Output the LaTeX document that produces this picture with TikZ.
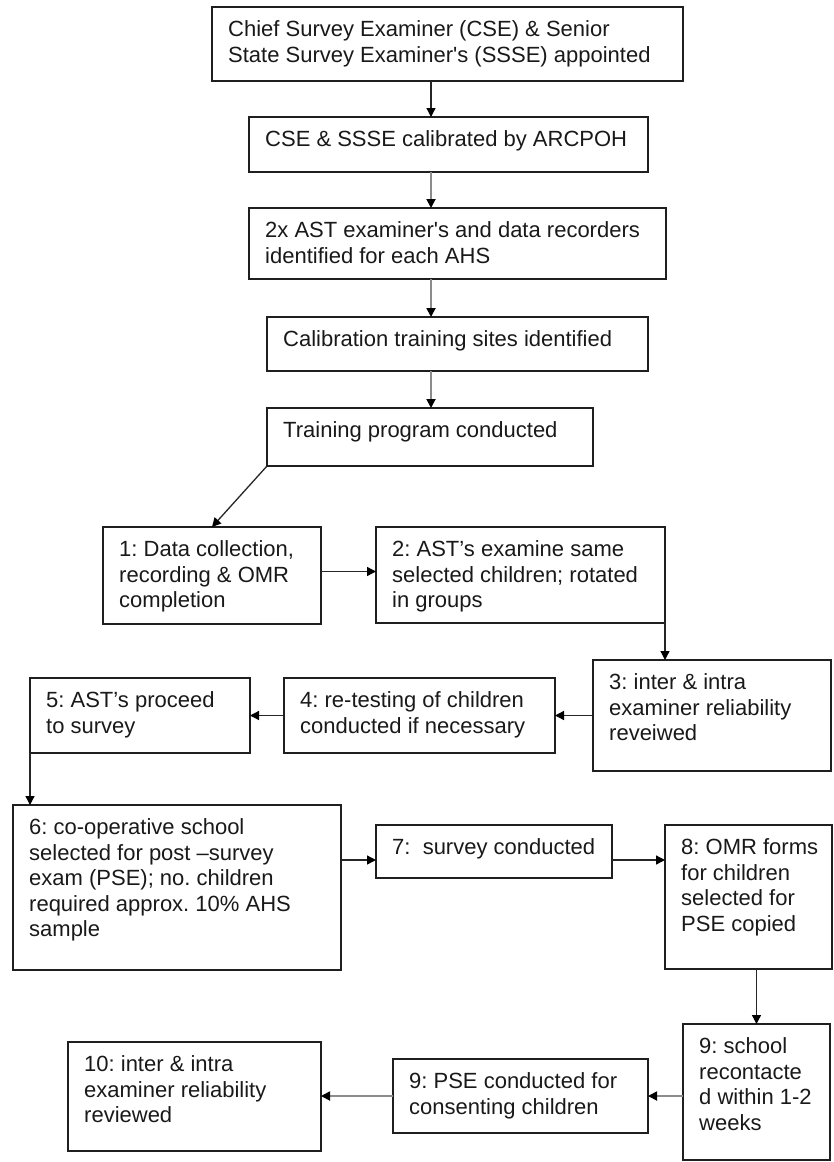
\documentclass[tikz,border=0pt]{standalone}
\usepackage{fontspec}
\setmainfont{Liberation Sans}
\usetikzlibrary{arrows.meta}
\frenchspacing

\tikzset{
  stepbox/.style={draw=black!88, line width=1.4pt, inner sep=0pt, outer sep=0pt, anchor=north west},
  steptext/.style={anchor=north west, align=left, inner sep=0pt, text=black!90,
    font=\fontsize{22}{25.5}\selectfont},
  conn/.style={draw=black!85, line width=1.3pt, -{Triangle[length=9pt,width=9pt,color=black]}},
  greyconn/.style={conn, draw=black!45, line width=1.8pt}
}

% \flowbox{name}{left}{top}{width}{height}{text}
% the strut fixes the first line's height, so the first baseline sits 29.5 below the top
\newcommand{\flowbox}[6]{%
  \node[stepbox, minimum width=#4pt, minimum height=#5pt] (#1) at (#2,#3) {};
  \node[steptext] (#1-t) at (#2+16,#3+11.65) {\strut #6};
}

\begin{document}
\begin{tikzpicture}[x=1pt, y=-1pt]
\useasboundingbox (0,0) rectangle (833,1162);

% setup sequence
\flowbox{appoint}{212}{7}{471}{74}{Chief Survey Examiner (CSE) \& Senior\\State Survey Examiner\textquotesingle s (SSSE) appointed}
\flowbox{calib}{249}{117}{399}{55}{CSE \& SSSE calibrated by ARCPOH}
\flowbox{ident}{249}{208}{417}{71}{2x AST examiner\textquotesingle s and data recorders\\identified for each AHS}
\flowbox{sites}{267}{317}{381}{54}{Calibration training sites identified}
\flowbox{train}{267}{408}{326}{58}{Training program conducted}

% calibration loop
\flowbox{s1}{103}{527}{218}{97}{1: Data collection,\\recording \& OMR\\completion}
\flowbox{s2}{376}{527}{289}{96}{2: AST’s examine same\\selected children; rotated\\in groups}
\flowbox{s3}{593}{660}{238}{111}{3: inter \& intra\\examiner reliability\\reveiwed}
\flowbox{s4}{284}{678}{271}{75}{4: re-testing of children\\conducted if necessary}
\flowbox{s5}{30}{678}{220}{75}{5: AST’s proceed\\to survey}

% survey and post-survey exam
\flowbox{s6}{13}{805}{328}{165}{6: co-operative school\\selected for post –survey\\exam (PSE); no. children\\required approx. 10\% AHS\\sample}
\flowbox{s7}{376}{825}{236}{53}{7:\ \ survey conducted}
\flowbox{s8}{665}{825}{167}{144}{8: OMR forms\\for children\\selected for\\PSE copied}
\flowbox{s9}{683}{1024}{147}{136}{9: school\\recontacte\\d within 1-2\\weeks}
\flowbox{s9b}{393}{1059}{255}{74}{9: PSE conducted for\\consenting children}
\flowbox{s10}{68}{1042}{253}{109}{10: inter \& intra\\examiner reliability\\reviewed}

% reference lines for shared connector positions
\coordinate (spine) at (431,0);
\coordinate (row67) at (0,860);

% connectors
\draw[conn] (appoint.south -| spine) -- (calib.north -| spine);
\draw[greyconn] (calib.south -| spine) -- (ident.north -| spine);
\draw[greyconn] (ident.south -| spine) -- (sites.north -| spine);
\draw[greyconn] (sites.south -| spine) -- (train.north -| spine);
\draw[conn] (train.south west) -- (s1.north);
\draw[conn] ([yshift=4pt]s1.east) -- ([yshift=4pt]s1.east -| s2.west);
\draw[conn] (s2.south east) -- (s2.south east |- s3.north);
\draw[conn] (s3.west) -- (s3.west -| s4.east);
\draw[conn] (s4.west) -- (s4.west -| s5.east);
\draw[conn] (s5.south west) -- (s5.south west |- s6.north);
\draw[conn] (s6.east |- row67) -- (s7.west |- row67);
\draw[conn] (s7.east |- row67) -- (s8.west |- row67);
\draw[conn] (s9.north |- s8.south) -- (s9.north);
\draw[greyconn] (s9.west |- s9b.east) -- (s9b.east);
\draw[greyconn] (s9b.west) -- (s9b.west -| s10.east);
\end{tikzpicture}
\end{document}
